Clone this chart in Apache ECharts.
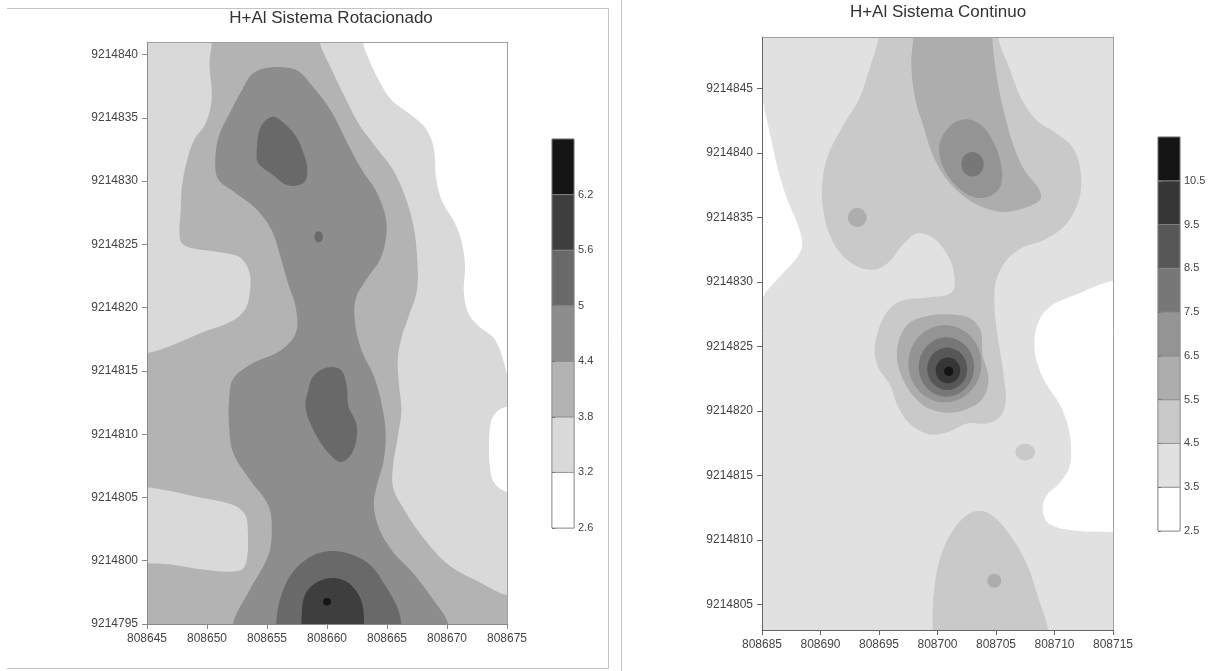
<!DOCTYPE html>
<html><head><meta charset="utf-8">
<script src="https://cdn.jsdelivr.net/npm/echarts@6/dist/echarts.min.js"></script>
<style>html,body{margin:0;padding:0;background:#fff}#c{width:1218px;height:671px}</style>
</head><body><div id="c"></div><script>
// ---------- DATA ----------
const leftTitle = 'H+Al Sistema Rotacionado';
const rightTitle = 'H+Al Sistema Continuo';
const leftXTicks = [808645, 808650, 808655, 808660, 808665, 808670, 808675];
const leftYTicks = [9214795, 9214800, 9214805, 9214810, 9214815, 9214820, 9214825, 9214830, 9214835, 9214840];
const rightXTicks = [808685, 808690, 808695, 808700, 808705, 808710, 808715];
const rightYTicks = [9214805, 9214810, 9214815, 9214820, 9214825, 9214830, 9214835, 9214840, 9214845];
const leftLevels = [2.6, 3.2, 3.8, 4.4, 5, 5.6, 6.2, 6.8];
const rightLevels = [2.5, 3.5, 4.5, 5.5, 6.5, 7.5, 8.5, 9.5, 10.5, 11.5];
const leftBarTicks = [2.6, 3.2, 3.8, 4.4, 5, 5.6, 6.2];
const rightBarTicks = [2.5, 3.5, 4.5, 5.5, 6.5, 7.5, 8.5, 9.5, 10.5];
const leftColors = ['#ffffff', '#d9d9d9', '#b3b3b3', '#8d8d8d', '#696969', '#3e3e3e', '#151515'];
const rightColors = ['#ffffff', '#e1e1e1', '#c9c9c9', '#adadad', '#949494', '#777777', '#575757', '#363636', '#141414'];

// Contour regions, offsets (easting, northing) from the panel origin
const X0L = 808645, Y0L = 9214795, X0R = 808685, Y0R = 9214803;
const L_ge32 = [[-3,-3],[33,-3],[33,19.5],[30.2,19.6],[29.8,20.5],[29.4,21.7],[28.8,22.7],[27.7,23.5],[26.8,24.5],[26.4,26.2],[26.5,28.3],[26.2,30.3],[25.6,31.8],[24.6,33.4],[24.1,35.2],[23.9,37.6],[23.2,39.2],[21.9,40.3],[20.3,41.5],[19.2,43.2],[18.5,44.6],[18.0,46.0],[17.8,49],[-3,49]];
const L_notch = [[33,10.3],[30.2,10.4],[29.4,10.7],[28.8,11.4],[28.55,12.6],[28.5,14.4],[28.7,16.1],[29.3,16.9],[30.2,17.2],[33,17.3]];
const L_ge38 = [[5.3,49],[5.4,46.0],[5.2,44.3],[5.4,41.6],[4.9,39.6],[3.9,38.2],[3.3,36.5],[2.9,34.5],[2.8,32.5],[2.7,31.0],[2.9,30.1],[3.8,29.7],[5.9,29.4],[7.7,29.0],[8.5,27.9],[8.6,26.5],[8.2,24.9],[7.0,23.9],[4.5,23.0],[2.0,22.0],[0,21.4],[-3,21.0],[-3,10.8],[0,10.8],[3.9,10.1],[7.2,9.4],[8.2,8.6],[8.4,7.4],[8.3,5.0],[7.7,4.2],[4.6,4.3],[2.0,4.7],[0,4.8],[-3,4.8],[-3,-3],[33,-3],[33,2.2],[30,2.3],[27.7,3.3],[25.1,4.7],[22.8,7.1],[21.2,9.4],[20.5,10.8],[20.5,12.5],[20.9,14.8],[21.2,16.9],[21.0,18.9],[20.9,20.9],[21.2,22.6],[21.8,24.3],[22.5,26.4],[22.5,29.1],[22.2,31.5],[21.5,33.8],[20.5,35.9],[18.9,37.9],[17.6,39.6],[16.3,42.0],[15.3,44.0],[14.4,46.0],[14.2,49]];
const L_ge44 = [[7.2,-3],[7.17,0],[8.5,2.6],[10.1,5.4],[10.4,7.4],[10.1,9.4],[8.5,11.5],[7.2,13.5],[6.85,15.5],[6.85,17.9],[7.2,19.4],[8.8,20.6],[11.1,21.6],[12.4,23.0],[12.4,25.0],[11.7,27.1],[11.1,29.1],[10.4,31.1],[9.1,32.8],[7.2,34.2],[5.9,35.2],[5.7,36.9],[6.0,38.6],[6.85,40.3],[7.8,42.0],[8.8,43.5],[10.4,44.0],[12.4,43.8],[13.7,42.6],[15.3,40.6],[16.6,38.2],[17.9,35.9],[19.1,34.2],[19.9,32.1],[19.9,30.4],[19.4,28.75],[18.4,27.4],[17.4,25.7],[17.35,23.7],[17.9,21.6],[18.9,19.6],[19.6,17.2],[19.9,14.85],[19.7,12.8],[19.2,11.1],[18.9,9.4],[19.4,7.4],[20.5,5.7],[22.2,4.0],[23.8,2.0],[25.1,0],[25.3,-3]];
const L_ge50_top = [[9.13,37.22],[9.46,39.25],[10.43,40.1],[11.41,39.59],[12.39,38.58],[13.04,37.22],[13.37,35.86],[13.04,34.85],[11.74,34.68],[10.43,35.53],[9.29,36.37]];
const L_ge50_mid = [[13.37,18.24],[13.86,19.59],[15.0,20.27],[16.14,20.1],[16.63,18.92],[16.79,17.22],[17.44,15.86],[17.44,14.51],[16.95,13.32],[16.14,12.81],[15.32,13.32],[14.35,14.51],[13.53,16.03],[13.2,17.22]];
const L_ge50_bot = [[10.7,-3],[10.76,0],[11.09,1.97],[12.06,4.0],[13.69,5.36],[15.32,5.76],[16.95,5.53],[18.58,4.68],[19.89,2.98],[20.87,1.29],[21.19,0],[21.3,-3]];
const L_ge56_bot = [[12.85,-3],[12.88,0],[13.04,1.97],[13.69,2.98],[14.98,3.59],[16.3,3.49],[17.28,2.81],[17.93,1.63],[18.09,0],[18.1,-3]];
const L_dot50 = [14.3, 30.6, 0.35, 0.45];   // centre x, centre y, radius x, radius y
const L_dot62 = [15.0, 1.75, 0.33, 0.3];

const R_white_left = [[-3,41.0],[0,40.9],[0.25,40.2],[0.75,38.2],[1.4,35.6],[2.2,33.3],[3.0,31.6],[3.45,29.9],[3.0,28.9],[1.7,27.6],[0.4,26.3],[0,25.8],[-3,25.5]];
const R_white_right = [[33,27.2],[30,27.1],[26.8,26.0],[24.5,25.0],[23.5,23.6],[23.3,21.7],[23.8,20.0],[24.5,18.8],[25.45,17.5],[26.1,16.0],[26.4,14.4],[26.3,12.7],[25.45,11.4],[24.3,10.4],[24.0,9.2],[24.6,8.2],[26.8,7.7],[30,7.6],[33,7.5]];
const R_ge45_main = [[9.96,49],[9.96,46.0],[9.3,43.86],[8.31,41.21],[6.99,39.22],[5.67,36.9],[5.18,34.91],[5.18,32.92],[5.67,30.94],[6.66,29.28],[7.98,28.28],[9.63,27.95],[10.95,28.62],[11.94,29.78],[13.25,30.77],[14.57,30.44],[15.73,29.28],[16.39,27.79],[16.23,26.2],[14.24,25.8],[12.27,25.63],[10.95,24.97],[9.96,23.31],[9.63,21.66],[9.96,20.33],[10.95,19.0],[11.61,17.35],[12.6,16.02],[14.24,15.19],[15.89,15.36],[17.54,16.02],[19.19,16.02],[20.34,16.52],[20.84,17.68],[20.67,19.67],[20.34,21.66],[20.01,23.64],[19.85,25.63],[20.01,27.12],[20.84,28.62],[22.16,29.61],[24.13,30.27],[25.78,31.27],[26.77,32.59],[27.27,34.25],[27.1,36.24],[26.44,37.57],[25.12,38.56],[23.48,39.55],[22.16,41.21],[21.17,43.53],[20.18,46.0],[20.1,49]];
const R_ge45_low = [[14.55,-3],[14.57,0],[14.64,2.43],[15.07,5.08],[15.89,7.07],[17.05,8.56],[18.36,9.23],[19.68,8.89],[21.17,7.4],[22.65,5.08],[23.64,2.43],[24.46,0],[24.6,-3]];
const R_dot45 = [22.5, 13.8, 0.85, 0.65];
const R_ge55_up = [[12.9,49],[12.92,46.0],[12.76,43.86],[13.09,41.21],[13.75,39.22],[14.57,36.9],[15.56,35.24],[16.88,33.92],[18.53,32.92],[20.51,32.43],[22.49,32.76],[23.8,33.42],[23.64,34.25],[22.49,35.58],[21.5,37.57],[20.67,40.22],[20.01,43.2],[19.68,46.0],[19.6,49]];
const R_ge55_mid = [[11.77,22.65],[12.59,23.81],[14.24,24.37],[16.22,24.47],[17.87,24.14],[18.7,23.15],[18.86,21.32],[19.35,19.67],[19.02,18.18],[18.03,17.35],[16.22,16.85],[14.24,17.18],[13.09,18.01],[12.1,19.34],[11.54,21.0]];
const R_dot55a = [8.14, 32.0, 0.8, 0.75];
const R_dot55b = [19.85, 3.82, 0.6, 0.55];
const R_ge65_up = [[15.23,37.9],[16.22,39.22],[17.54,39.62],[18.86,39.06],[19.85,37.73],[20.44,36.07],[20.44,34.58],[19.68,33.75],[18.36,33.52],[17.05,34.09],[15.89,35.24],[15.23,36.57]];
const R_dot75_up = [17.99, 36.13, 0.95, 0.95];
const R_peak65 = [15.63, 20.66, 3.13, 3.0];
const R_peak75 = [15.76, 20.4, 2.37, 2.3];
const R_peak85 = [15.83, 20.26, 1.71, 1.65];
const R_peak95 = [15.89, 20.13, 1.05, 1.0];
const R_peak105 = [15.96, 20.06, 0.4, 0.38];

// ---------- BUILD ----------
const leftShapes = [
  {lvl:1, pts:L_ge32}, {lvl:0, pts:L_notch}, {lvl:2, pts:L_ge38}, {lvl:3, pts:L_ge44},
  {lvl:4, pts:L_ge50_top}, {lvl:4, pts:L_ge50_mid}, {lvl:4, pts:L_ge50_bot}, {lvl:4, ell:L_dot50},
  {lvl:5, pts:L_ge56_bot}, {lvl:6, ell:L_dot62}
];
const rightShapes = [
  {lvl:0, pts:R_white_left}, {lvl:0, pts:R_white_right},
  {lvl:2, pts:R_ge45_main}, {lvl:2, pts:R_ge45_low}, {lvl:2, ell:R_dot45},
  {lvl:3, pts:R_ge55_up}, {lvl:3, pts:R_ge55_mid}, {lvl:3, ell:R_dot55a}, {lvl:3, ell:R_dot55b},
  {lvl:4, pts:R_ge65_up}, {lvl:5, ell:R_dot75_up},
  {lvl:4, ell:R_peak65}, {lvl:5, ell:R_peak75}, {lvl:6, ell:R_peak85}, {lvl:7, ell:R_peak95}, {lvl:8, ell:R_peak105}
];

function contourSeries(shapes, X0, Y0, colors, axisIdx) {
  return {
    type: 'custom', xAxisIndex: axisIdx, yAxisIndex: axisIdx, clip: true, silent: true, z: 2,
    data: shapes.map(s => s.ell ? [X0 + s.ell[0], Y0 + s.ell[1]] : [X0 + s.pts[0][0], Y0 + s.pts[0][1]]),
    renderItem: function (params, api) {
      const s = shapes[params.dataIndex];
      const fill = colors[s.lvl];
      if (s.ell) {
        const c = api.coord([X0 + s.ell[0], Y0 + s.ell[1]]);
        const sz = api.size([s.ell[2], s.ell[3]]);
        return {type:'circle', x:c[0], y:c[1], scaleY: sz[1] / sz[0], shape:{cx:0, cy:0, r:sz[0]},
                style:{fill: fill}, z2: params.dataIndex};
      }
      const pts = s.pts.map(p => api.coord([X0 + p[0], Y0 + p[1]]));
      return {type:'polygon', shape:{points: pts, smooth: 0.35}, style:{fill: fill}, z2: params.dataIndex};
    }
  };
}
function barSeries(levels, colors, axisIdx) {
  return {
    type: 'custom', xAxisIndex: axisIdx, yAxisIndex: axisIdx, silent: true,
    data: levels.slice(0, -1).map(v => [0.5, v]),
    renderItem: function (params, api) {
      const i = params.dataIndex;
      const p0 = api.coord([0, levels[i + 1]]);
      const p1 = api.coord([1, levels[i]]);
      return {type:'rect', shape:{x:p0[0], y:p0[1], width:p1[0]-p0[0], height:p1[1]-p0[1]},
              style:{fill: colors[i], stroke:'#8a8a8a', lineWidth:0.8}};
    }
  };
}
const FONT = 'Liberation Sans';
function mainAxis(grid, min, max, pos, ticks, lineColor) {
  return {
    gridIndex: grid, type:'value', min:min, max:max, position:pos, z: 10,
    axisLine:{show:true, onZero:false, lineStyle:{color:lineColor, width:1}},
    axisTick:{show:true, inside:false, length:5, customValues:ticks, lineStyle:{color:lineColor}},
    axisLabel:{customValues:ticks, formatter: v => String(v), fontFamily:FONT, fontSize:12, color:'#444', margin:9},
    splitLine:{show:false}
  };
}
function frameAxis(grid, min, max, pos) {
  return {gridIndex:grid, type:'value', min:min, max:max, position:pos, z: 10,
    axisLine:{show:true, onZero:false, lineStyle:{color:'#a0a0a0'}},
    axisTick:{show:false}, axisLabel:{show:false}, splitLine:{show:false}};
}
function barAxis(grid, levels, ticks) {
  return {gridIndex:grid, type:'value', min:levels[0], max:levels[levels.length-1], position:'right', z: 10,
    axisLine:{show:false}, axisTick:{show:true, length:3, customValues:ticks, lineStyle:{color:'#777'}},
    axisLabel:{customValues:ticks, formatter: v => String(v), fontFamily:FONT, fontSize:11, color:'#444', margin:4},
    splitLine:{show:false}};
}
function hiddenAxis(grid) { return {gridIndex:grid, type:'value', min:0, max:1, show:false}; }

const option = {
  animation: false,
  backgroundColor: '#fff',
  grid: [
    {left:147, top:42, width:360, height:582, show:true, backgroundColor:leftColors[0], borderWidth:0, outerBoundsMode:'none'},
    {left:762, top:37, width:351, height:593, show:true, backgroundColor:rightColors[1], borderWidth:0, outerBoundsMode:'none'},
    {left:552, top:139, width:22, height:389, show:true, borderColor:'#999', borderWidth:1, outerBoundsMode:'none'},
    {left:1158, top:137, width:22, height:394, show:true, borderColor:'#999', borderWidth:1, outerBoundsMode:'none'}
  ],
  xAxis: [
    mainAxis(0, leftXTicks[0], leftXTicks[leftXTicks.length-1], 'bottom', leftXTicks, '#8a8a8a'),
    frameAxis(0, leftXTicks[0], leftXTicks[leftXTicks.length-1], 'top'),
    mainAxis(1, rightXTicks[0], rightXTicks[rightXTicks.length-1], 'bottom', rightXTicks, '#666'),
    frameAxis(1, rightXTicks[0], rightXTicks[rightXTicks.length-1], 'top'),
    hiddenAxis(2), hiddenAxis(3)
  ],
  yAxis: [
    mainAxis(0, Y0L, Y0L + 46, 'left', leftYTicks, '#8a8a8a'),
    frameAxis(0, Y0L, Y0L + 46, 'right'),
    mainAxis(1, Y0R, Y0R + 46, 'left', rightYTicks, '#666'),
    frameAxis(1, Y0R, Y0R + 46, 'right'),
    barAxis(2, leftLevels, leftBarTicks),
    barAxis(3, rightLevels, rightBarTicks)
  ],
  series: [
    contourSeries(leftShapes, X0L, Y0L, leftColors, 0),
    contourSeries(rightShapes, X0R, Y0R, rightColors, 2),
    barSeries(leftLevels, leftColors, 4),
    barSeries(rightLevels, rightColors, 5)
  ],
  graphic: [
    {type:'line', shape:{x1:7, y1:8.5, x2:608.5, y2:8.5}, style:{stroke:'#c4c4c4', lineWidth:1}},
    {type:'line', shape:{x1:608.5, y1:8.5, x2:608.5, y2:668.5}, style:{stroke:'#c4c4c4', lineWidth:1}},
    {type:'line', shape:{x1:7, y1:668.5, x2:608.5, y2:668.5}, style:{stroke:'#c4c4c4', lineWidth:1}},
    {type:'line', shape:{x1:621.5, y1:0, x2:621.5, y2:671}, style:{stroke:'#c4c4c4', lineWidth:1}},
    {type:'text', x:331, y:18, style:{text:leftTitle, fontFamily:FONT, fontSize:17, fill:'#333', align:'center', verticalAlign:'middle'}},
    {type:'text', x:938, y:12, style:{text:rightTitle, fontFamily:FONT, fontSize:17, fill:'#333', align:'center', verticalAlign:'middle'}}
  ]
};
const chart = echarts.init(document.getElementById('c'), null, {renderer:'canvas'});
chart.setOption(option);
</script></body></html>
